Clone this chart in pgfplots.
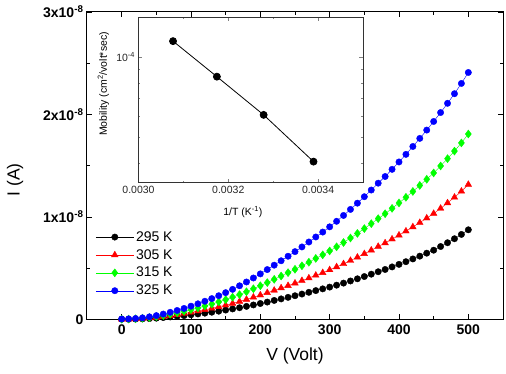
\documentclass[border=0pt]{standalone}
\usepackage{pgfplots}
\pgfplotsset{compat=1.18}
\usepackage{fontspec}
\setmainfont{Liberation Sans}
\definecolor{myred}{RGB}{255,0,0}
\definecolor{mygreen}{RGB}{0,255,0}
\definecolor{myblue}{RGB}{0,0,255}
\begin{document}
\begin{tikzpicture}
\useasboundingbox (-87pt,-54.5pt) rectangle (419pt,319.5pt);
\begin{axis}[
 at={(0pt,0pt)}, anchor=south west,
 width=416pt, height=307.5pt, scale only axis,
 xmin=-50, xmax=550, ymin=0, ymax=3,
 xtick={0,100,...,500}, minor x tick num=1,
 ytick={0,1,2,3}, minor y tick num=1,
 yticklabels={0,1x10\textsuperscript{-8},2x10\textsuperscript{-8},3x10\textsuperscript{-8}},
 tick align=inside, major tick length=5pt, minor tick length=3pt,
 axis line style={line width=1pt}, every tick/.style={line width=0.8pt},
 tick label style={font=\fontsize{14}{16}\selectfont\bfseries},
 xticklabel style={yshift=-1.5pt},
 /pgf/number format/assume math mode=true,
 xlabel={V (Volt)}, ylabel={I (A)},
 label style={font=\fontsize{17.5}{20}\selectfont},
 xlabel style={at={(axis description cs:0.5,-0.119)}, anchor=center},
 ylabel style={at={(axis description cs:-0.173,0.454)}, anchor=center},
 legend cell align=left,
 legend style={at={(axis description cs:0.013,0.30)}, anchor=north west, draw=none, fill=none,
   font=\fontsize{14}{16}\selectfont, row sep=2.6pt},
 legend image code/.code={\draw[mark repeat=2,mark phase=2] plot coordinates {(0pt,0pt) (19pt,0pt) (38pt,0pt)};},
]
\addplot[black, line width=0.4pt, mark=*, mark size=3.2pt, mark options={solid}] coordinates {
(0,0.003)(10,0.002)(20,0.004)(30,0.006)(40,0.009)(50,0.013)(60,0.019)(70,0.025)(80,0.031)(90,0.038)
(100,0.046)(110,0.054)(120,0.062)(130,0.071)(140,0.081)(150,0.092)(160,0.103)(170,0.115)(180,0.128)(190,0.142)
(200,0.156)(210,0.170)(220,0.186)(230,0.201)(240,0.216)(250,0.232)(260,0.248)(270,0.265)(280,0.282)(290,0.299)
(300,0.316)(310,0.335)(320,0.355)(330,0.376)(340,0.397)(350,0.419)(360,0.442)(370,0.466)(380,0.488)(390,0.513)
(400,0.538)(410,0.564)(420,0.591)(430,0.618)(440,0.647)(450,0.676)(460,0.712)(470,0.749)(480,0.788)(490,0.830)
(500,0.875)};
\addlegendentry{295 K}
\addplot[myred, line width=0.4pt, mark=triangle*, mark size=3.8pt, mark options={solid}] coordinates {
(0,0.003)(10,0.003)(20,0.005)(30,0.009)(40,0.014)(50,0.020)(60,0.028)(70,0.037)(80,0.047)(90,0.058)
(100,0.070)(110,0.082)(120,0.095)(130,0.109)(140,0.124)(150,0.140)(160,0.157)(170,0.176)(180,0.196)(190,0.217)
(200,0.238)(210,0.261)(220,0.284)(230,0.307)(240,0.330)(250,0.354)(260,0.379)(270,0.404)(280,0.431)(290,0.456)
(300,0.484)(310,0.513)(320,0.543)(330,0.575)(340,0.607)(350,0.641)(360,0.676)(370,0.712)(380,0.746)(390,0.784)
(400,0.822)(410,0.862)(420,0.903)(430,0.945)(440,0.989)(450,1.034)(460,1.084)(470,1.137)(480,1.192)(490,1.251)
(500,1.317)};
\addlegendentry{305 K}
\addplot[mygreen, line width=0.4pt, mark=diamond*, mark size=4pt, mark options={solid}] coordinates {
(0,0.003)(10,0.004)(20,0.007)(30,0.012)(40,0.019)(50,0.028)(60,0.039)(70,0.052)(80,0.065)(90,0.080)
(100,0.096)(110,0.113)(120,0.132)(130,0.151)(140,0.172)(150,0.194)(160,0.218)(170,0.243)(180,0.271)(190,0.300)
(200,0.329)(210,0.360)(220,0.392)(230,0.424)(240,0.457)(250,0.490)(260,0.524)(270,0.559)(280,0.596)(290,0.631)
(300,0.669)(310,0.709)(320,0.751)(330,0.795)(340,0.840)(350,0.887)(360,0.935)(370,0.984)(380,1.032)(390,1.084)
(400,1.137)(410,1.192)(420,1.249)(430,1.308)(440,1.368)(450,1.430)(460,1.498)(470,1.569)(480,1.643)(490,1.723)
(500,1.810)};
\addlegendentry{315 K}
\addplot[myblue, line width=0.4pt, mark=*, mark size=3.2pt, mark options={solid}] coordinates {
(0,0.005)(10,0.006)(20,0.010)(30,0.016)(40,0.026)(50,0.038)(60,0.053)(70,0.070)(80,0.088)(90,0.108)
(100,0.130)(110,0.153)(120,0.178)(130,0.204)(140,0.232)(150,0.262)(160,0.294)(170,0.329)(180,0.366)(190,0.405)
(200,0.445)(210,0.487)(220,0.530)(230,0.573)(240,0.617)(250,0.662)(260,0.708)(270,0.756)(280,0.805)(290,0.853)
(300,0.904)(310,0.958)(320,1.015)(330,1.074)(340,1.135)(350,1.198)(360,1.263)(370,1.330)(380,1.395)(390,1.465)
(400,1.537)(410,1.611)(420,1.688)(430,1.767)(440,1.848)(450,1.932)(460,2.019)(470,2.109)(480,2.203)(490,2.303)
(500,2.410)};
\addlegendentry{325 K}
\end{axis}
\begin{axis}[
 at={(51.5pt,137pt)}, anchor=south west,
 width=224.5pt, height=165.5pt, scale only axis,
 ymode=log, xmin=0.0030, xmax=0.0035, ymin=3.38e-5, ymax=1.416e-4,
 scaled x ticks=false,
 xtick={0.0030,0.0032,0.0034}, xticklabels={0.0030,0.0032,0.0034},
 minor xtick={0.0031,0.0033},
 ytick={1e-4}, yticklabels={10\textsuperscript{-4}},
 minor ytick={4e-5,5e-5,6e-5,7e-5,8e-5,9e-5},
 tick align=inside, major tick length=3.5pt, minor tick length=2pt,
 axis line style={line width=0.6pt, black!80},
 axis background/.style={fill=white},
 tick label style={font=\fontsize{10.5}{12}\selectfont, black!85},
 xlabel={1/T (K\textsuperscript{-1})},
 ylabel={Mobility (cm\textsuperscript{2}/volt*sec)},
 label style={font=\fontsize{10.5}{12}\selectfont},
 xlabel style={at={(axis description cs:0.465,-0.178)}, anchor=center},
 ylabel style={at={(axis description cs:-0.156,0.595)}, anchor=center},
]
\addplot[black, line width=0.8pt, mark=*, mark size=3.5pt] coordinates {
(0.0030769,1.149e-4)(0.0031746,8.45e-5)(0.0032787,6.07e-5)(0.0033898,4.05e-5)};
\end{axis}
\end{tikzpicture}
\end{document}
